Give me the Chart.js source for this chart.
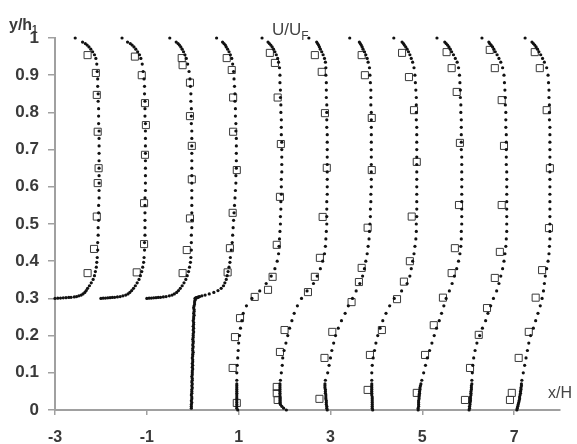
<!DOCTYPE html>
<html><head><meta charset="utf-8">
<script src="https://cdn.jsdelivr.net/npm/chart.js@4.4.0/dist/chart.umd.min.js"></script>
<style>html,body{margin:0;padding:0;background:#fff;}#wrap{width:577px;height:444px;}</style>
</head><body><div id="wrap"><canvas id="c" width="577" height="444"></canvas></div>
<script>
// ---------- DATA ----------
const stations = [-3, -2, -1, 0, 1, 2, 3, 4, 5, 6, 7];
const xTickValues = [-3, -1, 1, 3, 5, 7];
const yTickValues = [0, 0.1, 0.2, 0.3, 0.4, 0.5, 0.6, 0.7, 0.8, 0.9, 1];
const yTickLabels = ['0', '0.1', '0.2', '0.3', '0.4', '0.5', '0.6', '0.7', '0.8', '0.9', '1'];

// y levels of the dotted profiles upstream (above the step, y/h1 >= 0.3)
const yUp = [0.300,0.3005,0.301,0.3015,0.302,0.3025,0.303,0.304,0.305,0.307,0.309,0.312,0.316,0.321,0.327,0.334,0.342,0.351,0.361,0.372,0.384,0.397,
  0.41,0.43,0.45,0.47,0.49,0.51,0.53,0.55,0.57,0.59,0.61,0.63,0.65,0.67,0.69,0.71,0.73,0.75,0.77,0.79,0.81,0.83,0.85,0.87,0.89,0.91,0.93,
  0.945,0.955,0.963,0.970,0.976,0.981,0.985,0.989,1.0];
// extra y levels below the step for station 0
const yLow0 = [0.005,0.01,0.015,0.02,0.025,0.03,0.035,0.04,0.045,0.05,
  0.055,0.06,0.065,0.07,0.075,0.08,0.085,0.09,0.095,0.10,
  0.105,0.11,0.115,0.12,0.125,0.13,0.135,0.14,0.145,0.15,
  0.155,0.16,0.165,0.17,0.175,0.18,0.185,0.19,0.195,0.20,
  0.205,0.21,0.215,0.22,0.225,0.23,0.235,0.24,0.245,0.25,
  0.255,0.26,0.265,0.27,0.275,0.28,0.285,0.29,0.295];
// y levels of the dotted profiles downstream
const yDown = [0,0.005,0.01,0.015,0.02,0.025,0.03,0.035,0.04,0.045,0.05,0.055,0.06,0.065,0.07,
  0.08,0.10,0.12,0.14,0.16,0.18,0.20,0.22,0.24,0.26,0.28,0.30,0.32,0.34,0.36,0.38,0.40,0.42,0.44,0.46,0.48,0.50,
  0.52,0.54,0.56,0.58,0.60,0.62,0.64,0.66,0.68,0.70,0.72,0.74,0.76,0.78,0.80,
  0.82,0.84,0.86,0.88,0.90,0.92,
  0.935,0.945,0.955,0.963,0.970,0.976,0.981,0.985,0.989,1.0];

// U/UF of the dotted profiles
const uM3 = [0.00,0.06,0.12,0.18,0.24,0.30,0.35,0.42,0.47,0.52,0.57,0.61,0.65,0.68,0.71,0.75,0.79,0.83,0.86,0.88,0.90,0.91,
  0.92,0.93,0.93,0.94,0.94,0.95,0.95,0.95,0.96,0.96,0.96,0.96,0.96,0.96,0.96,0.96,0.96,0.96,0.95,0.95,0.95,0.94,0.94,0.93,0.93,0.92,0.91,
  0.89,0.86,0.82,0.78,0.74,0.70,0.66,0.60,0.44];
const uM2 = [0.00,0.05,0.10,0.15,0.20,0.25,0.30,0.36,0.42,0.48,0.54,0.59,0.63,0.67,0.71,0.75,0.79,0.83,0.86,0.89,0.91,0.93,
  0.94,0.95,0.95,0.96,0.96,0.96,0.96,0.96,0.96,0.97,0.97,0.97,0.97,0.97,0.97,0.97,0.97,0.97,0.97,0.96,0.96,0.96,0.95,0.95,0.94,0.92,0.90,
  0.87,0.84,0.80,0.76,0.72,0.68,0.64,0.58,0.46];
const uM1 = [0.00,0.05,0.10,0.15,0.20,0.25,0.30,0.36,0.42,0.49,0.55,0.60,0.65,0.69,0.73,0.77,0.81,0.85,0.88,0.91,0.93,0.95,
  0.96,0.97,0.97,0.97,0.98,0.98,0.98,0.98,0.98,0.98,0.98,0.98,0.98,0.98,0.98,0.98,0.98,0.98,0.97,0.97,0.97,0.96,0.96,0.95,0.94,0.92,0.89,
  0.86,0.83,0.80,0.77,0.74,0.71,0.68,0.64,0.50];
const u0 = [-0.03,-0.03,-0.03,-0.02,-0.03,-0.02,-0.02,-0.03,-0.02,-0.02,
  -0.02,-0.01,-0.02,-0.01,-0.02,-0.01,-0.01,-0.02,-0.01,-0.01,
  -0.01,0.00,-0.01,0.00,-0.01,0.00,0.00,-0.01,0.00,0.00,
  0.01,0.00,0.00,0.01,0.00,0.01,0.01,0.00,0.01,0.01,
  0.01,0.02,0.01,0.02,0.01,0.02,0.02,0.01,0.02,0.02,
  0.03,0.02,0.03,0.03,0.02,0.03,0.04,0.04,0.05,
  0.05,0.06,0.07,0.08,0.09,0.10,0.11,0.13,0.15,0.20,0.27,0.36,0.46,0.55,0.62,0.67,0.70,0.73,0.75,0.77,0.79,0.81,
  0.82,0.84,0.86,0.87,0.88,0.89,0.90,0.91,0.92,0.93,0.94,0.94,0.95,0.95,0.95,0.95,0.95,0.94,0.94,0.93,0.93,0.92,0.92,0.91,0.90,0.89,0.87,
  0.85,0.82,0.79,0.76,0.73,0.71,0.68,0.65,0.52];
const u1 = [-0.02,-0.04,-0.04,-0.04,-0.04,-0.04,-0.04,-0.04,-0.04,-0.04,-0.04,-0.04,-0.04,-0.04,-0.04,
  -0.04,-0.04,-0.03,-0.02,-0.01,0.00,0.02,0.04,0.07,0.10,0.17,0.29,0.46,0.60,0.71,0.79,0.84,0.87,0.88,0.89,0.90,0.91,
  0.91,0.92,0.92,0.93,0.93,0.93,0.94,0.94,0.94,0.94,0.94,0.93,0.93,0.93,0.92,
  0.92,0.91,0.91,0.90,0.90,0.89,
  0.87,0.85,0.82,0.79,0.76,0.73,0.70,0.67,0.64,0.51];
const u2 = [0.04,-0.02,-0.06,-0.09,-0.10,-0.10,-0.10,-0.10,-0.10,-0.10,-0.10,-0.10,-0.10,-0.10,-0.10,
  -0.09,-0.07,-0.05,-0.04,-0.01,0.03,0.07,0.11,0.16,0.21,0.28,0.37,0.49,0.63,0.71,0.78,0.83,0.87,0.89,0.90,0.91,0.92,
  0.92,0.92,0.92,0.93,0.93,0.93,0.93,0.93,0.93,0.93,0.93,0.93,0.92,0.92,0.92,
  0.92,0.91,0.91,0.91,0.90,0.90,
  0.89,0.87,0.84,0.81,0.78,0.76,0.74,0.72,0.70,0.53];
const u3 = [-0.07,-0.08,-0.08,-0.09,-0.09,-0.09,-0.10,-0.10,-0.10,-0.11,-0.11,-0.11,-0.12,-0.12,-0.12,
  -0.11,-0.06,-0.03,0.00,0.03,0.07,0.11,0.17,0.24,0.32,0.39,0.48,0.56,0.64,0.70,0.74,0.77,0.80,0.82,0.84,0.85,0.86,
  0.87,0.87,0.88,0.88,0.89,0.89,0.89,0.89,0.89,0.89,0.89,0.89,0.89,0.89,0.89,
  0.88,0.88,0.88,0.87,0.86,0.85,
  0.82,0.80,0.77,0.74,0.71,0.69,0.67,0.65,0.63,0.42];
const u4 = [-0.08,-0.09,-0.09,-0.09,-0.09,-0.09,-0.09,-0.09,-0.10,-0.10,-0.10,-0.10,-0.10,-0.10,-0.10,
  -0.10,-0.10,-0.09,-0.07,-0.04,-0.01,0.03,0.08,0.14,0.21,0.29,0.39,0.55,0.67,0.73,0.76,0.79,0.82,0.84,0.86,0.87,0.87,
  0.88,0.88,0.88,0.88,0.88,0.88,0.88,0.88,0.88,0.88,0.88,0.88,0.88,0.87,0.87,
  0.87,0.87,0.86,0.85,0.84,0.82,
  0.79,0.76,0.73,0.70,0.67,0.64,0.61,0.59,0.56,0.38];
const u5 = [-0.09,-0.09,-0.08,-0.08,-0.08,-0.08,-0.07,-0.07,-0.07,-0.06,-0.06,-0.05,-0.05,-0.04,-0.03,
  -0.01,0.03,0.07,0.11,0.16,0.21,0.26,0.31,0.37,0.42,0.47,0.52,0.59,0.65,0.70,0.75,0.79,0.82,0.84,0.85,0.85,0.86,
  0.86,0.86,0.86,0.86,0.86,0.86,0.86,0.86,0.86,0.85,0.85,0.85,0.85,0.85,0.84,
  0.84,0.83,0.83,0.82,0.81,0.79,
  0.76,0.72,0.68,0.64,0.61,0.58,0.55,0.52,0.49,0.32];
const u6 = [0.02,0.03,0.03,0.04,0.04,0.05,0.05,0.05,0.06,0.06,0.06,0.07,0.07,0.07,0.08,
  0.08,0.09,0.10,0.12,0.15,0.19,0.25,0.31,0.38,0.43,0.49,0.55,0.62,0.67,0.71,0.75,0.78,0.80,0.82,0.83,0.84,0.84,
  0.84,0.84,0.84,0.84,0.84,0.84,0.84,0.83,0.83,0.83,0.83,0.83,0.82,0.82,0.82,
  0.81,0.81,0.80,0.79,0.78,0.75,
  0.71,0.67,0.63,0.59,0.56,0.53,0.50,0.47,0.45,0.30];
const u7 = [0.06,0.07,0.08,0.09,0.10,0.11,0.12,0.12,0.13,0.14,0.14,0.15,0.15,0.16,0.16,
  0.17,0.20,0.23,0.26,0.29,0.32,0.36,0.42,0.47,0.52,0.57,0.61,0.64,0.66,0.68,0.71,0.74,0.76,0.77,0.78,0.78,0.78,
  0.78,0.78,0.78,0.78,0.78,0.78,0.78,0.78,0.78,0.78,0.78,0.78,0.78,0.77,0.77,
  0.77,0.76,0.76,0.75,0.74,0.71,
  0.66,0.62,0.58,0.54,0.51,0.48,0.45,0.42,0.39,0.24];

// open squares: [y/h1, U/UF]
const sqM3 = [[0.954,0.71],[0.906,0.89],[0.847,0.91],[0.748,0.93],[0.65,0.95],[0.61,0.93],[0.52,0.91],[0.433,0.85],[0.368,0.71]];
const sqM2 = [[0.95,0.74],[0.90,0.89],[0.825,0.96],[0.766,0.98],[0.686,0.96],[0.556,0.94],[0.446,0.94],[0.37,0.78]];
const sqM1 = [[0.946,0.76],[0.927,0.78],[0.88,0.94],[0.79,0.94],[0.71,0.98],[0.62,0.98],[0.515,0.94],[0.43,0.87],[0.368,0.78]];
const sq0 = [[0.946,0.74],[0.914,0.85],[0.84,0.88],[0.748,0.88],[0.645,0.96],[0.53,0.87],[0.435,0.81],[0.37,0.76]];
const sq1 = [[0.96,0.68],[0.933,0.79],[0.84,0.85],[0.715,0.92],[0.573,0.90],[0.444,0.83],[0.358,0.74],[0.323,0.64],[0.304,0.35],[0.247,0.03],[0.196,-0.08],[0.113,-0.13],[0.019,-0.04]];
const sq2 = [[0.954,0.66],[0.909,0.81],[0.798,0.88],[0.651,0.92],[0.519,0.83],[0.409,0.77],[0.358,0.66],[0.317,0.51],[0.215,0.0],[0.156,-0.10],[0.062,-0.17],[0.045,-0.17],[0.027,-0.15]];
const sq3 = [[0.954,0.68],[0.90,0.75],[0.785,0.90],[0.645,0.90],[0.49,0.81],[0.382,0.68],[0.344,0.62],[0.29,0.46],[0.21,0.04],[0.14,-0.13],[0.03,-0.24]];
const sq4 = [[0.96,0.56],[0.895,0.71],[0.806,0.82],[0.667,0.88],[0.52,0.77],[0.40,0.73],[0.345,0.60],[0.298,0.45],[0.215,0.12],[0.148,-0.14],[0.054,-0.19]];
const sq5 = [[0.962,0.53],[0.919,0.64],[0.855,0.75],[0.718,0.82],[0.551,0.80],[0.435,0.71],[0.368,0.64],[0.302,0.45],[0.228,0.25],[0.148,0.06],[0.046,-0.12]];
const sq6 = [[0.968,0.47],[0.919,0.58],[0.833,0.73],[0.71,0.78],[0.551,0.73],[0.425,0.69],[0.355,0.58],[0.274,0.41],[0.202,0.23],[0.113,0.04],[0.027,-0.07]];
const sq7 = [[0.962,0.45],[0.919,0.56],[0.806,0.71],[0.65,0.78],[0.489,0.76],[0.376,0.61],[0.302,0.47],[0.21,0.32],[0.14,0.10],[0.046,-0.05],[0.027,-0.09]];

// ---------- BUILD ----------
const dotProfiles = [
  [yUp, uM3], [yUp, uM2], [yUp, uM1], [yLow0.concat(yUp), u0],
  [yDown, u1], [yDown, u2], [yDown, u3], [yDown, u4], [yDown, u5], [yDown, u6], [yDown, u7]
];
const squareProfiles = [sqM3, sqM2, sqM1, sq0, sq1, sq2, sq3, sq4, sq5, sq6, sq7];

const datasets = [];
stations.forEach((s, k) => {
  const [ys, us] = dotProfiles[k];
  datasets.push({
    data: ys.map((y, i) => ({ x: s + us[i], y: y })),
    pointRadius: 1.6, pointHoverRadius: 1.6, pointBorderWidth: 0,
    backgroundColor: '#111', borderColor: '#111', clip: false
  });
});
stations.forEach((s, k) => {
  datasets.push({
    data: squareProfiles[k].map(p => ({ x: s + p[1], y: p[0] })),
    pointStyle: 'rect', pointRadius: 5, pointHoverRadius: 5, pointBorderWidth: 1,
    borderColor: '#3a3a3a', backgroundColor: 'rgba(255,255,255,0)', clip: false
  });
});

const FONT = '"Liberation Sans", Arial, sans-serif';
const labelPlugin = {
  id: 'axisNames',
  afterDraw(chart) {
    const ctx = chart.ctx;
    ctx.save();
    ctx.fillStyle = '#3a3a3a';
    ctx.textBaseline = 'alphabetic';
    ctx.textAlign = 'left';
    ctx.font = 'bold 16px ' + FONT;
    ctx.fillText('y/h', 9, 30);
    let w = ctx.measureText('y/h').width;
    ctx.font = 'bold 10px ' + FONT;
    ctx.fillText('1', 9 + w, 33);
    ctx.fillStyle = '#444';
    ctx.font = '17px ' + FONT;
    ctx.fillText('U/U', 272, 35);
    w = ctx.measureText('U/U').width;
    ctx.font = '12px ' + FONT;
    ctx.fillText('F', 272 + w, 40);
    ctx.font = '16px ' + FONT;
    ctx.fillText('x/H', 548, 398);
    ctx.restore();
  }
};

new Chart(document.getElementById('c'), {
  type: 'scatter',
  data: { datasets },
  options: {
    responsive: false, animation: false, devicePixelRatio: 1,
    layout: { padding: { top: 38, right: 17, left: 0, bottom: 0 } },
    plugins: { legend: { display: false }, tooltip: { enabled: false } },
    events: [],
    scales: {
      x: {
        type: 'linear', min: -3, max: 8,
        afterBuildTicks: sc => { sc.ticks = xTickValues.map(v => ({ value: v })); },
        afterFit: sc => { sc.height = 34; },
        ticks: { color: '#3a3a3a', font: { family: FONT, size: 16, weight: 'bold' }, padding: 13, maxRotation: 0, autoSkip: false },
        grid: { drawOnChartArea: false, drawTicks: true, tickLength: 5, color: '#a0a0a0', lineWidth: 1.5 },
        border: { display: true, color: '#a0a0a0', width: 2 }
      },
      y: {
        type: 'linear', min: 0, max: 1,
        afterBuildTicks: sc => { sc.ticks = yTickValues.map(v => ({ value: v })); },
        afterFit: sc => { sc.width = 55; },
        ticks: { color: '#3a3a3a', font: { family: FONT, size: 17, weight: 'bold' }, padding: 9, autoSkip: false,
          callback: (v, i) => yTickLabels[i] },
        grid: { drawOnChartArea: false, drawTicks: true, tickLength: 7, color: '#a0a0a0', lineWidth: 1.5 },
        border: { display: true, color: '#a0a0a0', width: 2 }
      }
    }
  },
  plugins: [labelPlugin]
});
</script></body></html>
